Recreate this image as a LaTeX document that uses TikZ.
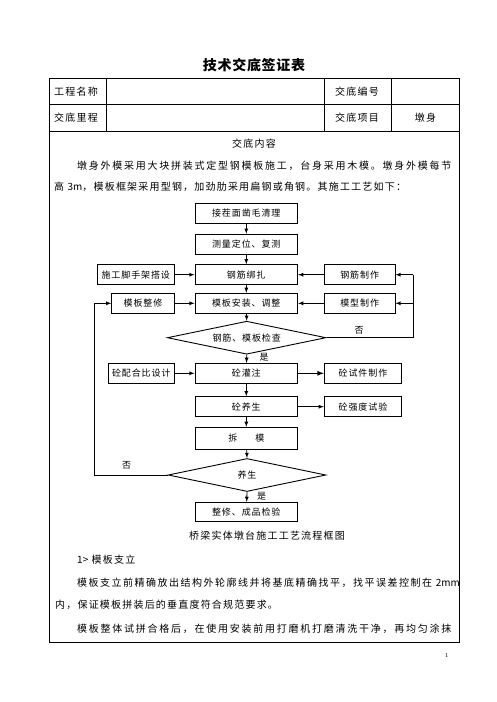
\documentclass[tikz,border=0pt]{standalone}
\usepackage{fontspec}
\usepackage{tikz}
\usetikzlibrary{shapes.geometric}
\newfontfamily\cjk[LetterSpace=12]{Noto Sans CJK SC}
\newfontfamily\cjkwide[LetterSpace=17.5]{Noto Sans CJK SC}
\newfontfamily\cjkmid[LetterSpace=15]{Noto Sans CJK SC}
\newfontfamily\cjkbox[LetterSpace=10]{Noto Sans CJK SC}
\newfontfamily\cjktitle[LetterSpace=5]{Noto Sans CJK SC}
\newfontfamily\cjkplain{Noto Sans CJK SC}
\tikzstyle{box}=[rectangle,draw,line width=0.9pt,minimum height=20pt,inner sep=0pt,font=\cjkbox\fontsize{9}{9}\selectfont]
\tikzstyle{main}=[box,minimum width=102.7pt]
\tikzstyle{test}=[diamond,draw,line width=0.9pt,inner sep=0pt,aspect=4.8,minimum width=158.7pt,minimum height=33pt,font=\cjkbox\fontsize{9}{9}\selectfont]
\tikzstyle{flow}=[->,line width=0.8pt,>=latex]
\tikzstyle{link}=[line width=0.8pt]
\tikzstyle{txt}=[anchor=west,inner sep=0pt,font=\cjk\fontsize{10}{10}\selectfont]
\tikzstyle{wide}=[anchor=west,inner sep=0pt,font=\cjkwide\fontsize{10}{10}\selectfont]
\tikzstyle{lbl}=[inner sep=0pt,font=\cjkbox\fontsize{9}{9}\selectfont]

\begin{document}
\begin{tikzpicture}[x=1pt,y=-1pt]
  \useasboundingbox (0,0) rectangle (496,702);
  \fill[white] (0,0) rectangle (496,702);

  % form
  \node[inner sep=0pt,font=\cjktitle\bfseries\fontsize{14}{14}\selectfont] (title) at (254,65) {技术交底签证表};
  \draw[line width=1pt] (49.3,78.3) rectangle (459.3,642.3);
  \draw[line width=0.9pt] (49.3,104.3) -- (459.3,104.3);
  \draw[line width=0.9pt] (49.3,131) -- (459.3,131);
  \draw[line width=0.9pt] (106.7,78.3) -- (106.7,131);
  \draw[line width=0.9pt] (324.3,78.3) -- (324.3,131);
  \draw[line width=0.9pt] (391.7,78.3) -- (391.7,131);
  \node[txt] (gcmc) at (54,91.3) {工程名称};
  \node[txt] (jdbh) at (335,91.3) {交底编号};
  \node[txt] (jdlc) at (54,117.5) {交底里程};
  \node[txt] (jdxm) at (335,117.5) {交底项目};
  \node[txt,anchor=center] (dsh) at (425.5,117.5) {墩身};
  \node[txt,anchor=center] (jdnr) at (254,144) {交底内容};
  \node[wide] (p1) at (77,165.7) {墩身外模采用大块拼装式定型钢模板施工，台身采用木模。墩身外模每节};
  \node[txt] (p2) at (54,186.5) {高 {\cjkplain 3m}，模板框架采用型钢，加劲肋采用扁钢或角钢。其施工工艺如下：};

  % flow chart
  \node[main] (qc) at (246.3,213.3) {接茬面凿毛清理};
  \node[main] (cl) at (246.3,244.2) {测量定位、复测};
  \node[main] (gjbz) at (246.3,274.7) {钢筋绑扎};
  \node[main] (mbaz) at (246.3,303.3) {模板安装、调整};
  \node[box,minimum width=77pt] (jsj) at (135.8,274.7) {施工脚手架搭设};
  \node[box,minimum width=62.6pt] (mbzx) at (143,303.3) {模板整修};
  \node[box,minimum width=70.7pt] (gjzz) at (359.7,274.7) {钢筋制作};
  \node[box,minimum width=70.7pt] (mxzz) at (359.7,303.3) {模型制作};
  \node[test] (jc1) at (246.7,337.7) {钢筋、模板检查};
  \node[main] (tgz) at (246.3,373.3) {砼灌注};
  \node[box,minimum width=66pt] (pb) at (141.3,373.3) {砼配合比设计};
  \node[box,minimum width=77.4pt] (sj) at (363,373.3) {砼试件制作};
  \node[main] (tys) at (246.3,406.7) {砼养生};
  \node[box,minimum width=77.4pt] (qd) at (363,406.7) {砼强度试验};
  \node[main,minimum height=22pt] (cm) at (246.3,438.3) {拆\hspace{18pt}模};
  \node[test,minimum width=157.7pt] (jc2) at (247,475) {养生};
  \node[main,minimum height=18.7pt] (cp) at (246.3,511.7) {整修、成品检验};

  \draw[flow] (qc)--(cl); \draw[flow] (cl)--(gjbz); \draw[flow] (gjbz)--(mbaz);
  \draw[flow] (mbaz)--(jc1.north); \draw[flow] (jc1.south)--(tgz);
  \draw[flow] (tgz)--(tys); \draw[flow] (tys)--(cm);
  \draw[flow] (cm)--(jc2.north); \draw[flow] (jc2.south)--(cp);
  \draw[flow] (jsj)--(gjbz); \draw[flow] (mbzx)--(mbaz);
  \draw[flow] (gjzz)--(gjbz); \draw[flow] (mxzz)--(mbaz);
  \draw[flow] (pb)--(tgz); \draw[flow,line width=1.2pt] (tgz)--(sj);
  \draw[flow] (tys)--(qd);

  \coordinate (rb) at (413.3,337.7);
  \coordinate (rt) at (413.3,274.7);
  \draw[link] (jc1.east)--(rb)--(rt);
  \draw[flow] (rt)--(gjzz.east);
  \draw[flow] (rb |- mxzz.east)--(mxzz.east);
  \coordinate (lb) at (94,475);
  \coordinate (lt) at (94,303.3);
  \draw[link] (jc2.west)--(lb)--(lt);
  \draw[flow] (lt)--(mbzx.west);

  \node[lbl] (no1) at (359,330) {否};
  \node[lbl] (yes1) at (264,357) {是};
  \node[lbl] (no2) at (126.7,465) {否};
  \node[lbl] (yes2) at (261.7,496.5) {是};

  % text below
  \node[txt,anchor=center] (cap) at (267,536) {桥梁实体墩台施工工艺流程框图};
  \node[txt] (h1) at (77,560) {{\cjkplain 1>} 模板支立};
  \node[txt,font=\cjkmid\fontsize{10}{10}\selectfont] (p3) at (77,582.7) {模板支立前精确放出结构外轮廓线并将基底精确找平，找平误差控制在 {\cjkplain 2mm}};
  \node[txt] (p4) at (55,605) {内，保证模板拼装后的垂直度符合规范要求。};
  \node[wide] (p5) at (77,628.3) {模板整体试拼合格后，在使用安装前用打磨机打磨清洗干净，再均匀涂抹};
  \node[inner sep=0pt,font=\fontsize{6}{6}\selectfont] (pg) at (446.7,655.7) {1};
\end{tikzpicture}
\end{document}
